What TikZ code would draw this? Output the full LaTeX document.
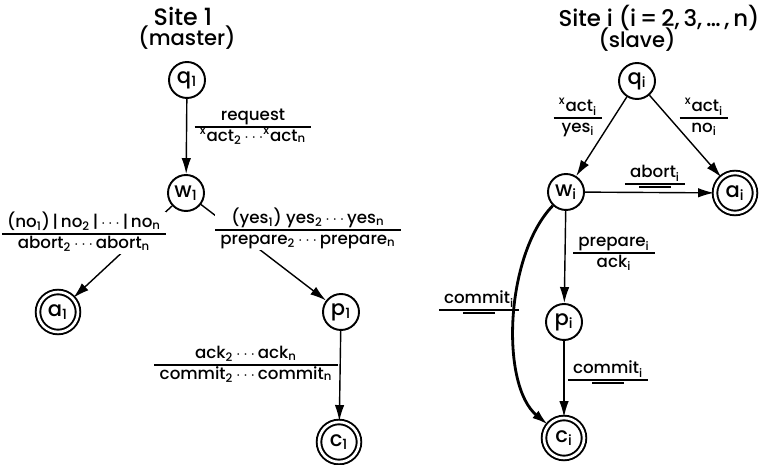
\documentclass[tikz,border=0pt]{standalone}
\usepackage{fontspec}
\setmainfont{Poppins}[UprightFont={* Medium}]
\usetikzlibrary{arrows.meta}
\setlength{\arrayrulewidth}{0.8pt}
\newcommand{\trans}[2]{\begin{tabular}{@{\hspace{3pt}}c@{\hspace{3pt}}}\strut#1\\\hline\strut#2\end{tabular}}
\newcommand{\sub}[2]{#1\textsubscript{#2}}
\newcommand{\xact}[1]{\textsuperscript{x}act\textsubscript{#1}}
\newcommand{\nobar}{\rule[6pt]{18pt}{0.8pt}}

\begin{document}
\begin{tikzpicture}
  [x=0.02cm,y=-0.02cm,
   state/.style={circle,draw,line width=1.1pt,minimum size=0.72cm,inner sep=0pt,font=\fontsize{12}{13}\selectfont},
   final/.style={state,double,double distance=1.5pt,minimum size=0.8cm},
   lbl/.style={inner sep=0pt,font=\fontsize{9.5}{11}\selectfont},
   title/.style={inner sep=0pt,anchor=base,font=\fontsize{12}{13}\selectfont},
   edge/.style={line width=0.8pt,-{Latex[length=3.2mm,width=1.9mm]}}]

  \useasboundingbox (0,0) rectangle (760,465);

  % site 1
  \node[title,font=\fontsize{13.5}{14}\selectfont] (t1a) at (183,26) {Site 1};
  \node[title] (t1b) at (187,46) {(master)};
  \node[state] (q1) at (187,80) {\sub{q}{1}};
  \node[state] (w1) at (186,193) {\sub{w}{1}};
  \node[final] (a1) at (58,312) {\sub{a}{1}};
  \node[state] (p1) at (341,312) {\sub{p}{1}};
  \node[final] (c1) at (339,442) {\sub{c}{1}};

  % site i
  \node[title,font=\fontsize{13}{14}\selectfont] (tia) at (659,27) {Site i (i\,=\,2,\,3,\,\ldots\,,\,n)};
  \node[title] (tib) at (637,48) {(slave)};
  \node[state] (qi) at (637,81) {\sub{q}{i}};
  \node[state] (wi) at (566,192) {\sub{w}{i}};
  \node[final] (ai) at (735,193) {\sub{a}{i}};
  \node[state] (pi) at (564,322) {\sub{p}{i}};
  \node[final] (ci) at (564,438) {\sub{c}{i}};

  \foreach \from/\to in {q1/w1,w1/a1,w1/p1,p1/c1,qi/wi,qi/ai,wi/ai,wi/pi,pi/ci}
    \draw[edge] (\from) -- (\to);
  \draw[edge,line width=1.6pt] (wi) .. controls (505,255) and (500,385) .. (ci);

  \node[lbl] (l1) at (253,127) {\trans{request}{\xact{2}\,$\cdots$\xact{n}}};
  \node[lbl,fill=white] (l2) at (84,233) {\trans{(\sub{no}{1})\,|\,\sub{no}{2}\,|\,$\cdots$\,|\,\sub{no}{n}}{\sub{abort}{2}\,$\cdots$\,\sub{abort}{n}}};
  \node[lbl,fill=white] (l3) at (308,229) {\trans{(\sub{yes}{1}) \sub{yes}{2}\,$\cdots$\,\sub{yes}{n}}{\sub{prepare}{2}\,$\cdots$\,\sub{prepare}{n}}};
  \node[lbl] (l4) at (246,365) {\trans{\sub{ack}{2}\,$\cdots$\,\sub{ack}{n}}{\sub{commit}{2}\,$\cdots$\,\sub{commit}{n}}};
  \node[lbl] (l5) at (578,118) {\trans{\xact{i}}{\sub{yes}{i}}};
  \node[lbl] (l6) at (704,118) {\trans{\xact{i}}{\sub{no}{i}}};
  \node[lbl] (l7) at (655,184) {\trans{\sub{abort}{i}}{\nobar}};
  \node[lbl] (l8) at (614,253) {\trans{\sub{prepare}{i}}{\sub{ack}{i}}};
  \node[lbl] (l9) at (608,380) {\trans{\sub{commit}{i}}{\nobar}};
  \node[lbl] (l10) at (479,310) {\trans{\sub{commit}{i}}{\nobar}};
\end{tikzpicture}
\end{document}
